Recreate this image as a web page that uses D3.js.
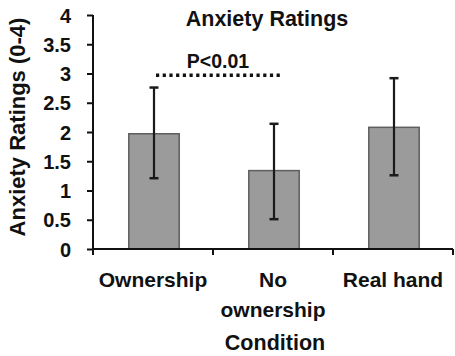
<!DOCTYPE html>
<html><head><meta charset="utf-8">
<script src="https://cdn.jsdelivr.net/npm/d3@7"></script>
<style>
html,body{margin:0;padding:0;background:#fff;}
text{font-family:"Liberation Sans",Arial,sans-serif;font-weight:bold;fill:#111;}
</style></head>
<body>
<svg id="chart" width="455" height="356"></svg>
<script>
const categories = ["Ownership", "No ownership", "Real hand"];
const categoryLines = [["Ownership"], ["No", "ownership"], ["Real hand"]];
const means = [1.97, 1.34, 2.08];
const errLow = [1.21, 0.51, 1.26];
const errHigh = [2.76, 2.14, 2.92];
const yTicks = [0, 0.5, 1, 1.5, 2, 2.5, 3, 3.5, 4];
const yTickLabels = ["0", "0.5", "1", "1.5", "2", "2.5", "3", "3.5", "4"];
const sigPair = ["Ownership", "No ownership"];
const sigLevel = 2.97;
const sigLabel = "P<0.01";
const title = "Anxiety Ratings";
const yTitle = "Anxiety Ratings (0-4)";
const xTitle = "Condition";

const svg = d3.select("#chart");
const mLeft = 93, mRight = 453, mTop = 15, mBottom = 249;

const x = d3.scaleBand().domain(categories).range([mLeft, mRight]).padding(0);
const y = d3.scaleLinear().domain([0, 4]).range([mBottom, mTop]);
const barW = x.bandwidth() * 0.42;

// bars
svg.selectAll("rect.bar").data(categories).enter().append("rect")
  .attr("class", "bar")
  .attr("x", d => x(d) + x.bandwidth() / 2 - barW / 2 + 1)
  .attr("width", barW)
  .attr("y", (d, i) => y(means[i]))
  .attr("height", (d, i) => y(0) - y(means[i]))
  .attr("fill", "#9b9b9b").attr("stroke", "#5e5e5e").attr("stroke-width", 1.5);

// error bars
const cx = d => x(d) + x.bandwidth() / 2 + 1;
svg.selectAll("line.err").data(categories).enter().append("line")
  .attr("x1", cx).attr("x2", cx)
  .attr("y1", (d, i) => y(errHigh[i])).attr("y2", (d, i) => y(errLow[i]))
  .attr("stroke", "#1a1a1a").attr("stroke-width", 2.2);
[errHigh, errLow].forEach(arr => {
  svg.selectAll(null).data(categories).enter().append("line")
    .attr("x1", d => cx(d) - 4.5).attr("x2", d => cx(d) + 4.5)
    .attr("y1", (d, i) => y(arr[i])).attr("y2", (d, i) => y(arr[i]))
    .attr("stroke", "#1a1a1a").attr("stroke-width", 2.5);
});

// y axis
const yAxis = d3.axisLeft(y).tickValues(yTicks)
  .tickFormat((d, i) => yTickLabels[i]).tickSize(6).tickSizeOuter(0).tickPadding(16);
const gy = svg.append("g").attr("transform", `translate(${mLeft},0)`).call(yAxis);
gy.select(".domain").attr("stroke", "#111").attr("stroke-width", 2)
  .attr("d", `M0,${mBottom + 6}V${mTop}`);
gy.selectAll(".tick line").attr("stroke", "#111").attr("stroke-width", 2);
gy.selectAll(".tick text").style("font-size", "20px").style("font-family", "Liberation Sans, Arial, sans-serif")
  .style("font-weight", "bold").attr("fill", "#111").attr("dy", "0.36em");

// x axis
const gx = svg.append("g").attr("transform", `translate(0,${mBottom})`);
gx.append("line").attr("x1", mLeft).attr("x2", mRight).attr("y1", 0).attr("y2", 0)
  .attr("stroke", "#111").attr("stroke-width", 2);
gx.selectAll("line.xt").data(categories).enter().append("line")
  .attr("x1", d => x(d) + x.bandwidth()).attr("x2", d => x(d) + x.bandwidth())
  .attr("y1", 0).attr("y2", 6).attr("stroke", "#111").attr("stroke-width", 2);

// category labels
categoryLines.forEach((lines, i) => {
  const t = svg.append("text").attr("text-anchor", "middle")
    .attr("x", x(categories[i]) + x.bandwidth() / 2)
    .attr("y", 287).style("font-size", "21px");
  lines.forEach((ln, j) => {
    t.append("tspan").attr("x", x(categories[i]) + x.bandwidth() / 2)
      .attr("dy", j === 0 ? 0 : 30).text(ln);
  });
});

// axis titles
svg.append("text").attr("text-anchor", "middle").attr("x", 275).attr("y", 350)
  .style("font-size", "21.5px").text(xTitle);
svg.append("text").attr("text-anchor", "middle")
  .attr("transform", `translate(25,127) rotate(-90)`)
  .style("font-size", "22px").text(yTitle);

// title
svg.append("text").attr("text-anchor", "middle").attr("x", 267).attr("y", 26)
  .style("font-size", "21.5px").text(title);

// significance
const sx1 = x(sigPair[0]) + x.bandwidth() / 2 + 3;
const sx2 = x(sigPair[1]) + x.bandwidth() / 2 + 7;
svg.append("line").attr("x1", sx1).attr("x2", sx2)
  .attr("y1", y(sigLevel)).attr("y2", y(sigLevel))
  .attr("stroke", "#111").attr("stroke-width", 3.5).attr("stroke-dasharray", "3.2,3.5");
svg.append("text").attr("text-anchor", "middle").attr("x", (sx1 + sx2) / 2).attr("y", 68)
  .style("font-size", "19.5px").text(sigLabel);
</script>
</body></html>
